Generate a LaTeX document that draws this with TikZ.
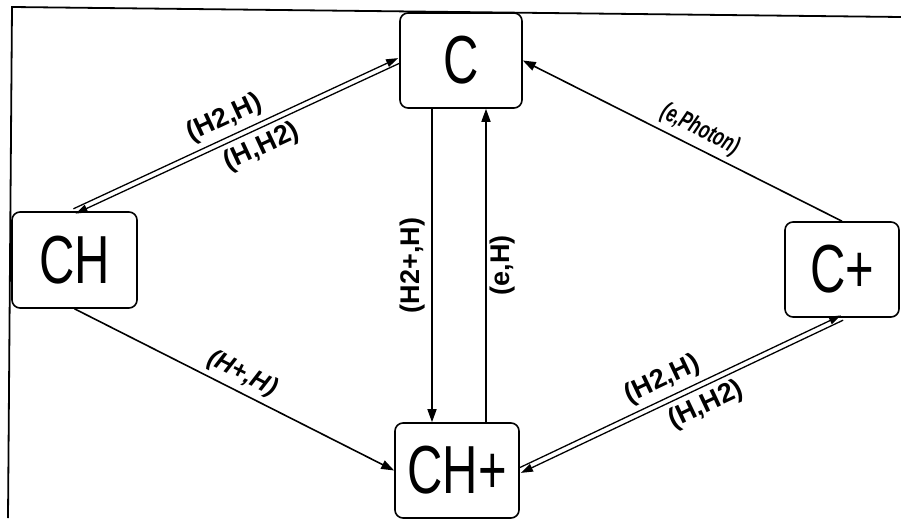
\documentclass[tikz,border=0pt]{standalone}
\usepackage{fontspec}
\setmainfont{Liberation Sans}
\newfontfamily\boxfont[FakeStretch=0.72]{Liberation Sans}
\newfontfamily\slimfont[FakeStretch=0.68]{Liberation Sans}
\usetikzlibrary{arrows.meta}
\begin{document}
\begin{tikzpicture}[x=1pt,y=-1pt,
  state/.style={draw, line width=1.6pt, rounded corners=8pt, inner sep=0pt,
    fill=white, font=\boxfont\fontsize{68}{68}\selectfont},
  lbl/.style={font=\bfseries\fontsize{27}{27}\selectfont, inner sep=2pt},
  ilbl/.style={font=\bfseries\itshape\fontsize{25}{25}\selectfont, inner sep=2pt},
  slbl/.style={font=\slimfont\bfseries\itshape\fontsize{25}{25}\selectfont, inner sep=2pt},
  link/.style={line width=1.6pt, -{Triangle[length=13pt,width=9pt]}},
  pair/.style={line width=1.3pt, -{Triangle[length=12pt,width=8pt]}}]
\useasboundingbox (0,0) rectangle (901,521);

% open frame along the top and left
\draw[line width=1.8pt] (901,17) -- (12,7) -- (8,518);

% species
\node[state, minimum width=122pt, minimum height=95pt] (C)   at (461,60.5)  {C};
\node[state, minimum width=125pt, minimum height=96pt] (CH)  at (74.5,260)  {CH};
\node[state, minimum width=114pt, minimum height=95pt] (Cp)  at (842,269.5) {C+};
\node[state, minimum width=124pt, minimum height=95pt] (CHp) at (457,470.5) {CH+};

% vertical pair between C and CH+
\coordinate (dn) at (432,0);
\coordinate (up) at (486,0);
\draw[link] (C.south -| dn) -- node[lbl, pos=0.5, xshift=-19pt, rotate=90] {(H2+,H)} (CHp.north -| dn);
\draw[link] (CHp.north -| up) -- node[lbl, pos=0.5, xshift=17pt, rotate=90] {(e,H)} (C.south -| up);

% CH <-> C
\draw[pair] ([shift={(-1.1,-2.4)}]CH.north) -- node[lbl, sloped, above=3pt, pos=0.49] {(H2,H)} ([shift={(-1.1,-2.4)}]C.west);
\draw[pair] ([shift={(1.1,2.4)}]C.west) -- node[lbl, sloped, below=3pt, pos=0.45] {(H,H2)} ([shift={(1.1,2.4)}]CH.north);

% CH+ <-> C+
\draw[pair] ([shift={(-1.1,-2.4)}]CHp.east) -- node[lbl, sloped, above=3pt, pos=0.47] {(H2,H)} ([shift={(-1.1,-2.4)}]Cp.south);
\draw[pair] ([shift={(1.1,2.4)}]Cp.south) -- node[lbl, sloped, below=3pt, pos=0.45] {(H,H2)} ([shift={(1.1,2.4)}]CHp.east);

% single diagonal links
\draw[link] (Cp.north) -- node[slbl, sloped, above=3pt, pos=0.47] {(e,Photon)} (C.east);
\draw[link] (CH.south) -- node[ilbl, sloped, above=3pt, pos=0.5] {(H+,H)} (CHp.west);
\end{tikzpicture}
\end{document}
